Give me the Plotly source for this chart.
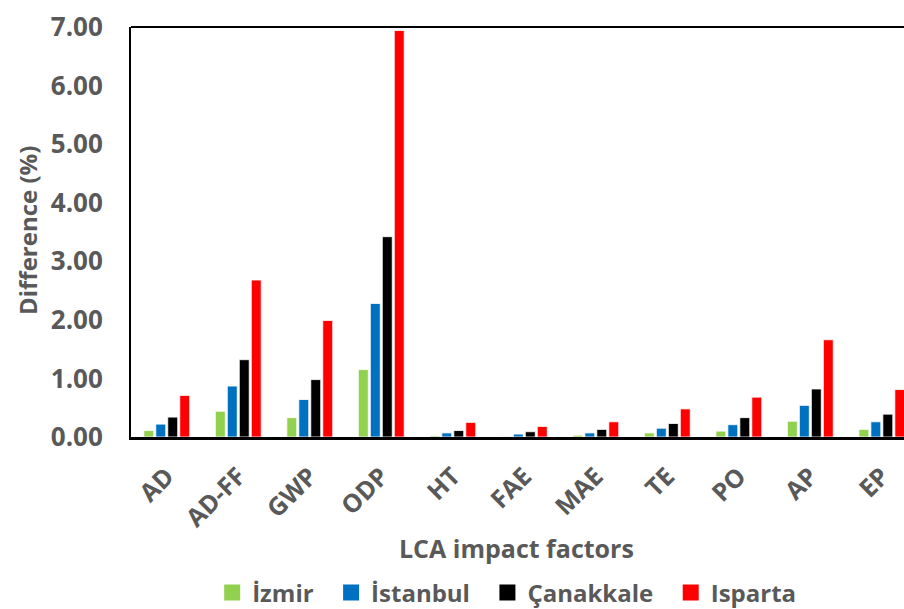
import plotly.graph_objects as go

categories = ["AD", "AD-FF", "GWP", "ODP", "HT", "FAE", "MAE", "TE", "PO", "AP", "EP"]
izmir = [0.11, 0.44, 0.33, 1.15, 0.02, 0.01, 0.03, 0.07, 0.10, 0.27, 0.13]
istanbul = [0.22, 0.87, 0.64, 2.28, 0.07, 0.05, 0.07, 0.15, 0.21, 0.54, 0.26]
canakkale = [0.34, 1.32, 0.98, 3.42, 0.11, 0.09, 0.13, 0.23, 0.33, 0.82, 0.39]
isparta = [0.71, 2.68, 1.99, 6.94, 0.25, 0.18, 0.26, 0.48, 0.68, 1.66, 0.81]

series = [
    ("İzmir", izmir, "#92D050"),
    ("İstanbul", istanbul, "#0070C0"),
    ("Çanakkale", canakkale, "#000000"),
    ("Isparta", isparta, "#FF0000"),
]

FONT = "Open Sans"
GRAY = "#595959"
PAD = "\u00a0\u00a0"

fig = go.Figure()
for name, vals, col in series:
    fig.add_trace(go.Bar(
        x=categories, y=vals, name=name, showlegend=False,
        marker=dict(color=col, line=dict(color="white", width=0.8)),
    ))
# legend entries with larger square symbols
for i, (name, vals, col) in enumerate(series):
    label = name + (PAD if i < len(series) - 1 else "")
    fig.add_trace(go.Scatter(
        x=[None], y=[None], mode="markers", name=label,
        marker=dict(symbol="square", size=17, color=col),
    ))

fig.update_layout(
    width=904, height=609,
    margin=dict(l=131, r=0, t=27, b=172, autoexpand=False),
    paper_bgcolor="white", plot_bgcolor="white",
    barmode="group", bargap=0.33, bargroupgap=0.17,
    font=dict(family=FONT, color=GRAY, size=22),
    showlegend=True,
    legend=dict(
        orientation="h", x=0.486, xanchor="center", y=-0.38, yanchor="middle",
        font=dict(family=FONT, size=24, color=GRAY, weight="bold"),
        itemwidth=30, traceorder="normal",
    ),
    xaxis=dict(
        range=[-0.5, 10.31], showline=True, linecolor="black", linewidth=2.5,
        showgrid=False, ticks="", tickangle=-45, automargin=False,
        ticklabelstandoff=12,
        tickfont=dict(family=FONT, size=25, color=GRAY, weight="bold"),
    ),
    yaxis=dict(
        range=[0, 7], dtick=1, tickformat=".2f", showline=True,
        linecolor="black", linewidth=2, showgrid=False, ticks="",
        zeroline=False, automargin=False, ticklabelstandoff=21,
        tickfont=dict(family=FONT, size=26, color=GRAY, weight="bold"),
    ),
    annotations=[
        dict(text="<b>LCA impact factors</b>", xref="paper", yref="paper",
             x=(516 - 131) / 773, y=-(548 - 437) / 410, showarrow=False,
             xanchor="center", yanchor="middle",
             font=dict(family=FONT, size=25, color=GRAY)),
        dict(text="<b>Difference (%)</b>", xref="paper", yref="paper",
             x=-(131 - 27) / 773, y=(437 - 231) / 410, showarrow=False,
             xanchor="center", yanchor="middle", textangle=-90,
             font=dict(family=FONT, size=24, color=GRAY)),
    ],
)
fig.add_shape(type="line", xref="paper", yref="paper", x0=0, x1=1, y0=1, y1=1,
              line=dict(color="black", width=2))

fig.write_html(
    "out.html",
    config={"displayModeBar": False},
    post_script="document.body.style.margin='0';document.body.style.overflow='hidden';",
)
